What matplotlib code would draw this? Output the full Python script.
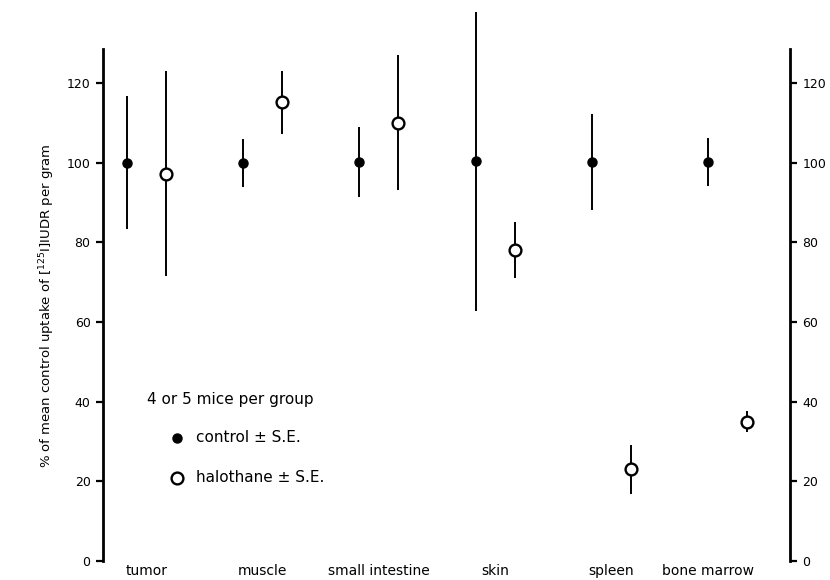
import numpy as np
import matplotlib.pyplot as plt

tissues = ["tumor", "muscle", "small intestine", "skin", "spleen", "bone marrow"]

# % of mean control uptake, mean and standard error
control_mean = [100, 100, 100.2, 100.3, 100.2, 100.2]
control_se = [16.6, 6, 8.8, 37.5, 12, 6.1]
halo_mean = [97.2, 115.2, 110, 78, 23, 35]
halo_se = [25.7, 7.9, 17, 7, 6.2, 2.6]

y_ticks = [0, 20, 40, 60, 80, 100, 120]

pos = np.arange(len(tissues))
shift = 0.335
label_pos = [p + shift / 2 for p in pos[:-1]] + [pos[-1]]

fig = plt.figure(figsize=(8.3, 5.8), dpi=100)
ax = fig.add_axes([0.1241, 0.0328, 0.8277, 0.8819])

ax.errorbar(pos, control_mean, yerr=control_se, fmt="o", color="black",
            ms=6.5, elinewidth=1.4, capsize=0, zorder=3, clip_on=False)
ax.errorbar(pos + shift, halo_mean, yerr=halo_se, fmt="o", color="black",
            mfc="white", mec="black", mew=1.7, ms=8.5, elinewidth=1.4,
            capsize=0, zorder=3, clip_on=False)

ax.set_xlim(-0.204, 5.703)
ax.set_ylim(0, 128.4)
ax.set_yticks(y_ticks)
ax.set_xticks(label_pos)
ax.set_xticklabels(tissues, fontsize=10)
ax.tick_params(axis="x", length=0, pad=2)
ax.tick_params(axis="y", direction="out", length=5, width=1.6, labelsize=9,
               right=True, labelright=True, pad=4)

for side in ["top", "bottom"]:
    ax.spines[side].set_visible(False)
for side in ["left", "right"]:
    ax.spines[side].set_linewidth(2)

ax.set_ylabel("% of mean control uptake of [$^{125}$I]IUDR per gram",
              fontsize=9.5, labelpad=7)

# key in the lower left
ax.text(0.064, 0.3148, "4 or 5 mice per group", transform=ax.transAxes,
        fontsize=11, va="center", ha="left")
ax.plot([0.1077], [0.2405], "o", color="black", ms=6.5,
        transform=ax.transAxes, clip_on=False)
ax.text(0.1354, 0.2405, "control ± S.E.", transform=ax.transAxes,
        fontsize=11, va="center", ha="left")
ax.plot([0.1077], [0.1623], "o", mfc="white", mec="black", mew=1.7, ms=8.5,
        transform=ax.transAxes, clip_on=False)
ax.text(0.1354, 0.1623, "halothane ± S.E.", transform=ax.transAxes,
        fontsize=11, va="center", ha="left")

fig.savefig("out.png", dpi=100)
